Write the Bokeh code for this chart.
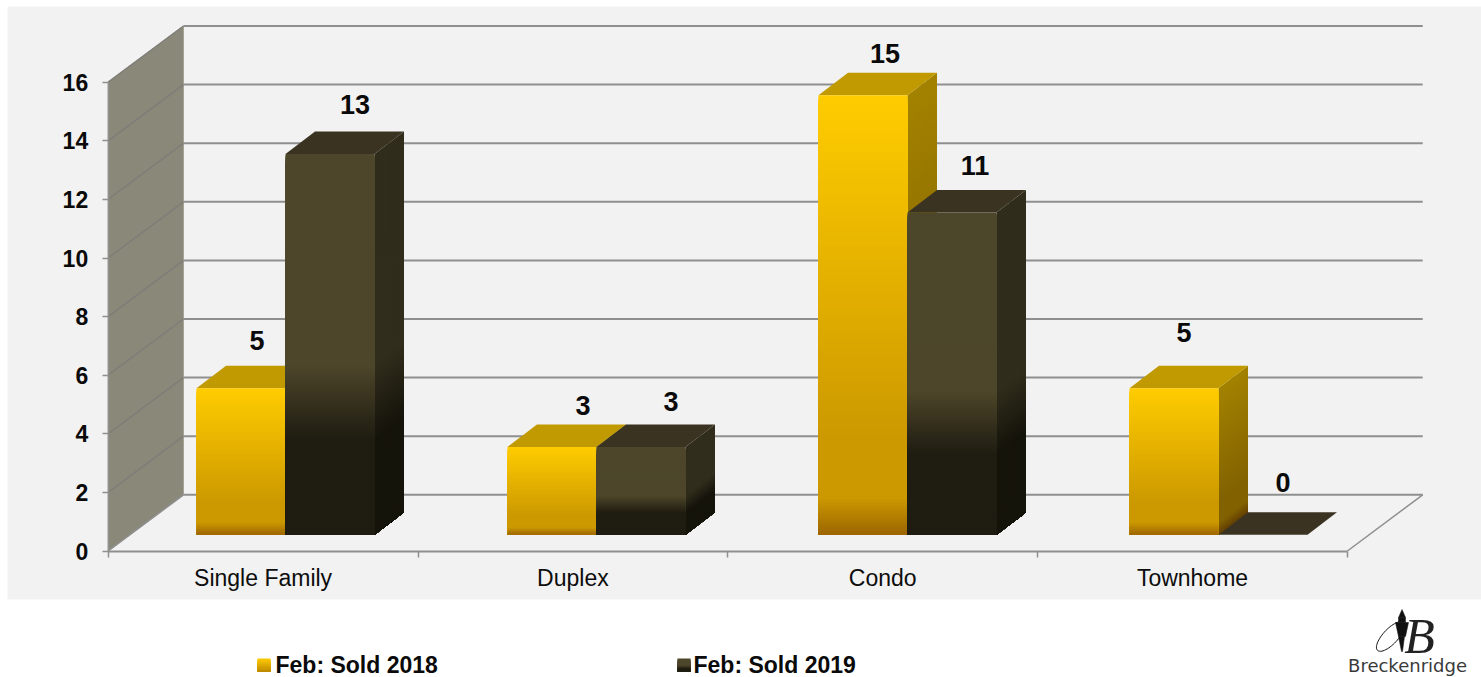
import numpy as np
from bokeh.plotting import figure
from bokeh.models import LinearAxis, FixedTicker, Range1d
from bokeh.core.properties import value
from bokeh.embed import file_html
from bokeh.resources import INLINE

categories = ["Single Family", "Duplex", "Condo", "Townhome"]
sold_2018 = [5, 3, 15, 5]
sold_2019 = [13, 3, 11, 0]
series_names = ["Feb: Sold 2018", "Feb: Sold 2019"]
y_ticks = [0, 2, 4, 6, 8, 10, 12, 14, 16]

W, H = 1481, 677
PX_X, PX_Y = 309.8, 29.3            # pixels per category / per unit
X0_PAGE, Y0_PAGE = 107.7, 550.5     # picture position of the axis origin
FONT = value("Liberation Sans")


def dx(px):
    return px / PX_X


def dy(px):
    return px / PX_Y


def page_x(px):
    return (px - X0_PAGE) / PX_X


def page_y(py):
    return (Y0_PAGE - py) / PX_Y


def mix(stops, t):
    ts = [s[0] for s in stops]
    chans = [np.interp(t, ts, [int(s[1][i:i + 2], 16) for s in stops]) for i in (1, 3, 5)]
    return "#%02x%02x%02x" % tuple(int(round(c)) for c in chans)


GOLD_FRONT = [(0, "#ffcc00"), (.78, "#cc9900"), (.915, "#cc9900"), (1, "#9c6500")]
GOLD_SIDE = [(0, "#a38200"), (.78, "#826200"), (.915, "#826200"), (1, "#644000")]
GOLD_TOP = "#c09a00"
DARK_FRONT = [(0, "#4d462a"), (.555, "#4d462a"), (.75, "#1f1c11"), (1, "#1f1c11")]
DARK_SIDE = [(0, "#312d1c"), (.555, "#312d1c"), (.75, "#15140b"), (1, "#15140b")]
DARK_TOP = "#3a3322"

WALL_DX, WALL_DY = dx(75.3), dy(56.2)
BAR_DX, BAR_DY = dx(29.5), dy(22.5)
BASE_Y = dy(16.2)
BAR_W = dx(89)
GROUP_X0 = dx(88.3)
GROUP_STEP = dx(311)

p = figure(width=W, height=H, output_backend="svg", toolbar_location=None,
           x_axis_type=None, y_axis_type=None, min_border=0,
           x_range=Range1d(page_x(0), page_x(W)),
           y_range=Range1d(page_y(H), page_y(0)))
p.outline_line_color = None
p.grid.visible = False
p.background_fill_color = "#ffffff"
p.border_fill_color = "#ffffff"

# grey panel
p.quad(left=[page_x(7)], right=[page_x(W)], top=[page_y(6)], bottom=[page_y(599)],
       fill_color="#f2f2f2", line_color=None)

# side wall
p.patch([0, WALL_DX, WALL_DX, 0], [0, WALL_DY, WALL_DY + y_ticks[-1], y_ticks[-1]],
        fill_color="#8a8878", line_color="#a3a398", line_width=1)

GRID = "#8f8f8f"
ys = np.array(y_ticks, dtype=float)
n_cat = len(categories)
# wall diagonals
p.segment(x0=[0.0] * (len(ys) - 1), y0=ys[1:], x1=[WALL_DX] * (len(ys) - 1), y1=ys[1:] + WALL_DY,
          line_color="#7e7d78", line_width=1.5)
# back wall lines
p.segment(x0=[WALL_DX] * len(ys), y0=ys + WALL_DY, x1=[n_cat + WALL_DX] * len(ys), y1=ys + WALL_DY,
          line_color=GRID, line_width=2)
# floor edges
p.segment(x0=[0.0, n_cat], y0=[0.0, 0.0], x1=[WALL_DX, n_cat + WALL_DX], y1=[WALL_DY, WALL_DY],
          line_color=GRID, line_width=1.5)


def gradient_bar(x, v, front, side, top):
    """One 3D column. Each strip runs down to the column's foot and is painted
    over the strip above it, so no seams show between them."""
    b = BASE_Y
    xr = x + BAR_W
    if v > 0:
        n = max(8, int(v * PX_Y / 2))
        starts = np.linspace(0, 1, n, endpoint=False)
        step = 1 / n
        fx, fy, fc, sx, sy, sc = [], [], [], [], [], []
        for a in starts:
            yt = b + v * (1 - a)
            fx.append([x, xr, xr, x])
            fy.append([yt, yt, b, b])
            fc.append(mix(front, a + step / 2))
            sx.append([xr, xr + BAR_DX, xr + BAR_DX, xr])
            sy.append([yt, yt + BAR_DY, b + BAR_DY, b])
            sc.append(mix(side, a + step / 2))
        p.patches(sx, sy, fill_color=sc, line_color=None)
    p.patch([x, xr, xr + BAR_DX, x + BAR_DX],
            [b + v, b + v, b + v + BAR_DY, b + v + BAR_DY],
            fill_color=top, line_color=None)
    if v > 0:
        p.patches(fx, fy, fill_color=fc, line_color=None)


for i in range(n_cat):
    x = GROUP_X0 + i * GROUP_STEP
    gradient_bar(x, sold_2018[i], GOLD_FRONT, GOLD_SIDE, GOLD_TOP)
    gradient_bar(x + BAR_W, sold_2019[i], DARK_FRONT, DARK_SIDE, DARK_TOP)

# value labels: offsets from each column's front-top centre (pixels)
LABEL_OFF_2018 = [(16, 48), (31, 41), (22, 42), (10, 56)]
LABEL_OFF_2019 = [(25, 49), (30, 45), (23, 47), (20, 52)]
lx, ly, lt = [], [], []
for i in range(n_cat):
    x = GROUP_X0 + i * GROUP_STEP
    for k, (vals, off) in enumerate(((sold_2018, LABEL_OFF_2018), (sold_2019, LABEL_OFF_2019))):
        lx.append(x + k * BAR_W + BAR_W / 2 + dx(off[i][0]))
        ly.append(BASE_Y + vals[i] + dy(off[i][1]))
        lt.append(str(vals[i]))
p.text(lx, ly, text=lt, text_font=FONT, text_font_style="bold", text_font_size="27px",
       text_align="center", text_baseline="middle", text_color="#0a0a0a")

# axes
yaxis = LinearAxis(fixed_location=0, bounds=(0, y_ticks[-1]), ticker=FixedTicker(ticks=y_ticks))
yaxis.axis_line_color = GRID
yaxis.axis_line_width = 1.5
yaxis.major_tick_line_color = GRID
yaxis.major_tick_line_width = 1.5
yaxis.major_tick_out = 6
yaxis.major_tick_in = 0
yaxis.minor_tick_line_color = None
yaxis.major_label_standoff = 14
yaxis.major_label_text_font = "Liberation Sans"
yaxis.major_label_text_font_style = "bold"
yaxis.major_label_text_font_size = "23px"
yaxis.major_label_text_color = "#0a0a0a"
p.add_layout(yaxis, "left")

centres = [i + 0.5 for i in range(n_cat)]
xaxis = LinearAxis(fixed_location=0, bounds=(0, n_cat),
                   ticker=FixedTicker(ticks=centres, minor_ticks=list(range(n_cat + 1))))
xaxis.major_label_overrides = dict(zip(centres, categories))
xaxis.axis_line_color = GRID
xaxis.axis_line_width = 2
xaxis.major_tick_line_color = None
xaxis.major_tick_out = 0
xaxis.major_tick_in = 0
xaxis.minor_tick_line_color = GRID
xaxis.minor_tick_line_width = 1.5
xaxis.minor_tick_out = 6
xaxis.minor_tick_in = 0
xaxis.major_label_standoff = 8
xaxis.major_label_text_font = "Liberation Sans"
xaxis.major_label_text_font_size = "23px"
xaxis.major_label_text_color = "#0d0d0d"
p.add_layout(xaxis, "below")

# legend
for name, left, text_left, grad in ((series_names[0], 257, 275, GOLD_FRONT),
                                    (series_names[1], 677, 693, DARK_FRONT)):
    n = 13
    edges = np.linspace(0, 1, n + 1)
    cols = [mix(grad, (a + e) / 2) for a, e in zip(edges[:-1], edges[1:])]
    p.quad(left=[page_x(left)] * n, right=[page_x(left + 13)] * n,
           top=[page_y(658 + a * 13) for a in edges[:-1]],
           bottom=[page_y(671)] * n,
           fill_color=cols, line_color=None)
    p.text([page_x(text_left)], [page_y(664)], text=[name], text_font=FONT, text_font_style="bold",
           text_font_size="23px", text_align="left", text_baseline="middle", text_color="#0a0a0a")

# logo
p.text([page_x(1407)], [page_y(665)], text=["Breckenridge"], text_font=value("DejaVu Sans"),
       text_font_size="18px", text_align="center", text_baseline="middle", text_color="#3a3a3a")
p.text([page_x(1419)], [page_y(635)], text=["B"], text_font=value("Liberation Serif"),
       text_font_style="italic", text_font_size="50px", text_align="center", text_baseline="middle",
       text_color="#222222")
lamp = [[(1395, 622), (1408, 622), (1405, 636), (1398, 636)],
        [(1398, 617), (1405, 617), (1405, 622), (1398, 622)],
        [(1398, 636), (1404, 636), (1402, 651), (1401, 651)],
        [(1398, 617), (1401.5, 609), (1405, 617)]]
p.patches([[page_x(a) for a, _ in s] for s in lamp], [[page_y(b) for _, b in s] for s in lamp],
          fill_color="#111111", line_color="#111111", line_width=0.5)
t = np.linspace(0, 2 * np.pi, 60)
ang = 0.75
ex = 1390 + 7.5 * np.cos(t) * np.cos(ang) - 19 * np.sin(t) * np.sin(ang)
ey = 636 + 7.5 * np.cos(t) * np.sin(ang) + 19 * np.sin(t) * np.cos(ang)
p.line(page_x(ex), page_y(ey), line_color="#111111", line_width=1)

open("out.html", "w").write(file_html(p, INLINE))
